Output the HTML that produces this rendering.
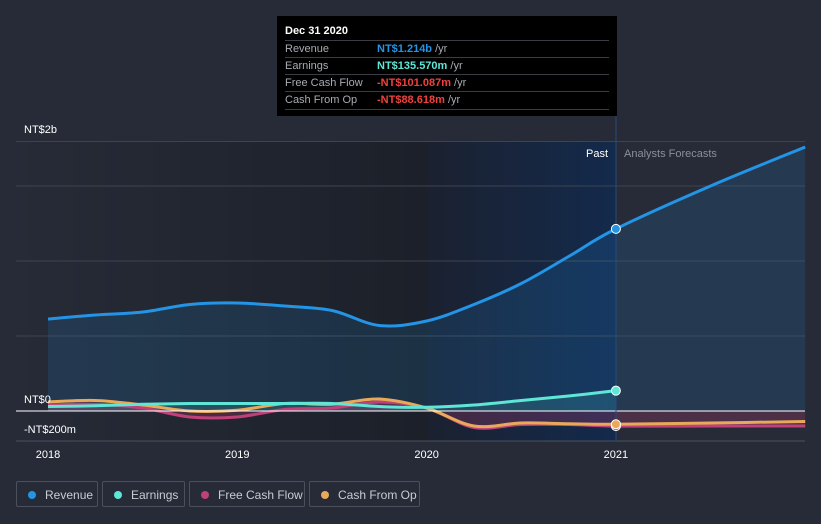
<!DOCTYPE html>
<html><head><meta charset="utf-8"><style>
html,body{margin:0;padding:0;background:#262b37;width:821px;height:524px;overflow:hidden;font-family:"Liberation Sans",sans-serif}
svg{position:absolute;left:0;top:0}
.tt{position:absolute;left:277px;top:16px;width:340px;height:100px;background:#000;color:#fff;font-size:11px}
.tt .h{position:absolute;left:8px;top:9px;font-weight:bold;font-size:11px}
.row{position:absolute;left:8px;width:324px;height:17px;border-top:1px solid #3a3d44;line-height:17px}
.row span.l{color:#a8abb2;position:absolute;left:0}
.row span.v{position:absolute;left:92px;font-weight:bold}
.row span.u{color:#a8abb2;font-weight:normal}
.lg{position:absolute;top:481px;height:26px;border:1px solid #4a505c;border-radius:2px;color:#c9ccd2;font-size:12px;line-height:26px;box-sizing:border-box}
.lg i{position:absolute;left:11px;top:9px;width:8px;height:8px;border-radius:50%}
.lg span{position:absolute;left:28px}
</style></head><body>
<svg width="821" height="524" id="chart">
<defs>
<linearGradient id="pastG" x1="0" x2="1"><stop offset="0" stop-color="#262b37"/><stop offset="1" stop-color="#1c2029"/></linearGradient>
<linearGradient id="hiG" x1="0" x2="1"><stop offset="0" stop-color="#1b2130"/><stop offset="1" stop-color="#132a4c"/></linearGradient>
</defs>
<rect x="16" y="141" width="411" height="300" fill="url(#pastG)"/>
<rect x="427" y="141" width="189" height="300" fill="url(#hiG)"/>
<g id="grid"></g>
<g id="series"></g>
<line x1="616" y1="116" x2="616" y2="441" stroke="#2a4a7a" stroke-width="1"/>
<text x="24" y="133" fill="#fff" font-size="11">NT$2b</text>
<text x="24" y="403" fill="#fff" font-size="11">NT$0</text>
<text x="24" y="433" fill="#fff" font-size="11">-NT$200m</text>
<text x="608" y="157" fill="#fff" font-size="11" text-anchor="end">Past</text>
<text x="624" y="157" fill="#8a8f99" font-size="11">Analysts Forecasts</text>
<g id="xt"></g>
<g id="pts"></g>
</svg>
<div class="tt">
<div class="h">Dec 31 2020</div>
<div class="row" style="top:24px"><span class="l">Revenue</span><span class="v" style="color:#2394e6">NT$1.214b <span class="u">/yr</span></span></div>
<div class="row" style="top:41px"><span class="l">Earnings</span><span class="v" style="color:#5ee6d6">NT$135.570m <span class="u">/yr</span></span></div>
<div class="row" style="top:58px"><span class="l">Free Cash Flow</span><span class="v" style="color:#f0413e">-NT$101.087m <span class="u">/yr</span></span></div>
<div class="row" style="top:75px;border-bottom:1px solid #3a3d44"><span class="l">Cash From Op</span><span class="v" style="color:#f0413e">-NT$88.618m <span class="u">/yr</span></span></div>
</div>
<div class="lg" style="left:16px;width:82px"><i style="background:#2394e6"></i><span>Revenue</span></div>
<div class="lg" style="left:102px;width:83px"><i style="background:#5ee6d6"></i><span>Earnings</span></div>
<div class="lg" style="left:189px;width:116px"><i style="background:#c0417a"></i><span>Free Cash Flow</span></div>
<div class="lg" style="left:309px;width:111px"><i style="background:#e8a95a"></i><span>Cash From Op</span></div>
<script>
const years=[2018,2019,2020,2021];
const revT=[2018,2018.25,2018.5,2018.75,2019,2019.25,2019.5,2019.75,2020,2020.25,2020.5,2020.75,2021,2021.5,2022];
const revenue=[0.613,0.64,0.66,0.71,0.72,0.70,0.67,0.57,0.60,0.71,0.85,1.03,1.214,1.50,1.76];
const pastT=[2018,2018.25,2018.5,2018.75,2019,2019.25,2019.5,2019.75,2020,2020.25,2020.5,2020.75,2021];
const earnings=[0.03,0.035,0.045,0.05,0.05,0.05,0.05,0.03,0.025,0.04,0.07,0.10,0.1356];
const cfT=[2018,2018.25,2018.5,2018.75,2019,2019.25,2019.5,2019.75,2020,2020.25,2020.5,2020.75,2021,2021.5,2022];
const fcf=[0.04,0.045,0.02,-0.04,-0.04,0.01,0.02,0.06,0.02,-0.11,-0.09,-0.09,-0.101,-0.10,-0.10];
const cfo=[0.06,0.07,0.04,0.0,0.005,0.05,0.045,0.08,0.02,-0.10,-0.08,-0.085,-0.0886,-0.08,-0.07];
const gridVals=[0.5,1,1.5];
const X=t=>48+(t-2018)*189.3;
const Y=v=>411-v*150;
const NS="http://www.w3.org/2000/svg";
function mk(tag,at,parent){const e=document.createElementNS(NS,tag);for(const k in at)e.setAttribute(k,at[k]);parent.appendChild(e);return e;}
const grid=document.getElementById('grid'),ser=document.getElementById('series'),xt=document.getElementById('xt'),pts=document.getElementById('pts');
let g=mk('line',{x1:16,x2:805,y1:141.5,y2:141.5,stroke:'#3d4350'},grid);


gridVals.forEach(v=>{const l=mk('line',{x1:16,x2:805,y1:Y(v),y2:Y(v),stroke:'#3d4350'},grid);

});
g=mk('line',{x1:16,x2:805,y1:441,y2:441,stroke:'#4a505c'},grid);


years.forEach(y=>{const t=mk('text',{x:X(y),y:458,fill:'#fff','font-size':11,'text-anchor':'middle'},xt);t.textContent=y;

});
function smooth(ts,vs){let p=[];for(let i=0;i<ts.length;i++)p.push([X(ts[i]),Y(vs[i])]);
let d='M'+p[0][0]+','+p[0][1];
for(let i=0;i<p.length-1;i++){const p0=p[i-1]||p[i],p1=p[i],p2=p[i+1],p3=p[i+2]||p2;
d+=' C'+(p1[0]+(p2[0]-p0[0])/6)+','+(p1[1]+(p2[1]-p0[1])/6)+' '+(p2[0]-(p3[0]-p1[0])/6)+','+(p2[1]-(p3[1]-p1[1])/6)+' '+p2[0]+','+p2[1];}
return d;}
function area(ts,vs,fill,name){const d=smooth(ts,vs)+' L'+X(ts[ts.length-1])+','+Y(0)+' L'+X(ts[0])+','+Y(0)+'Z';
const a=mk('path',{d:d,fill:fill},ser);

}
area(revT,revenue,'rgba(35,148,230,0.15)','revenue-area');
area(pastT,earnings,'rgba(94,230,214,0.15)','earnings-area');
area(cfT,fcf,'rgba(192,65,122,0.25)','fcf-area');
function line(ts,vs,col,name){const l=mk('path',{d:smooth(ts,vs),fill:'none',stroke:col,'stroke-width':3},ser);

}
line(cfT,fcf,'#c0417a','fcf-line');
line(cfT,cfo,'#e8a95a','cfo-line');
line(pastT,earnings,'#5ee6d6','earnings-line');
line(revT,revenue,'#2394e6','revenue-line');
const z=mk('line',{x1:16,x2:805,y1:Y(0),y2:Y(0),stroke:'#fff','stroke-width':1},ser);


[[revenue[12],'#2394e6','revenue-point'],[earnings[12],'#5ee6d6','earnings-point'],[fcf[12],'#c0417a','fcf-point'],[cfo[12],'#e8a95a','cfo-point']].forEach(a=>{
const c=mk('circle',{cx:X(2021),cy:Y(a[0]),r:4.5,fill:a[1],stroke:'#fff','stroke-width':1},pts);

});
</script>
</body></html>
